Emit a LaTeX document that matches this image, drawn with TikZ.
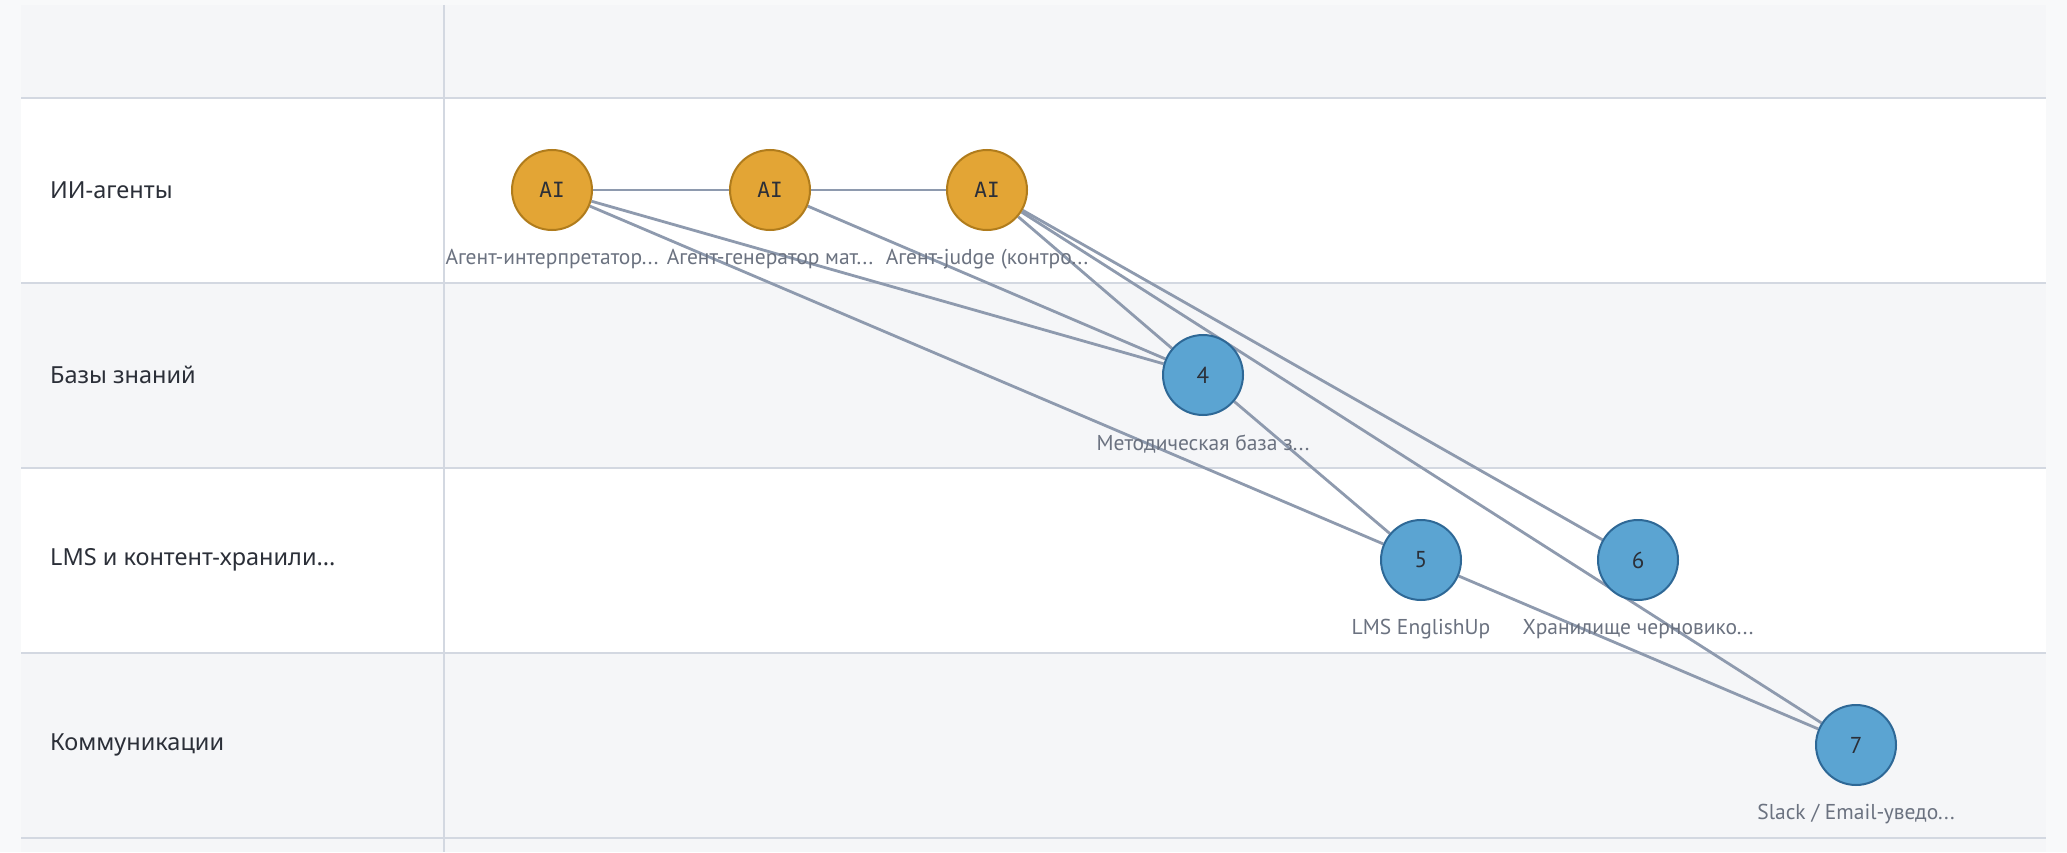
\documentclass[tikz,border=0pt]{standalone}
\usepackage{fontspec}
\setmainfont{Noto Sans}
\newfontfamily\lblfont{PT Sans}
\newfontfamily\aifont{DejaVu Sans Mono}
\usetikzlibrary{positioning,backgrounds}
\pgfdeclarelayer{edgelayer}
\pgfsetlayers{background,edgelayer,main}
\definecolor{pagebg}{HTML}{F8F9FA}
\definecolor{bandgray}{HTML}{F5F6F8}
\definecolor{gridline}{HTML}{D3D8E1}
\definecolor{agentfill}{HTML}{E3A535}
\definecolor{agentedge}{HTML}{B07C1C}
\definecolor{sysfill}{HTML}{5BA4D2}
\definecolor{sysedge}{HTML}{2E6896}
\definecolor{linkgray}{HTML}{8E9AAE}
\definecolor{darktext}{HTML}{2B2F38}
\definecolor{lblgray}{HTML}{6B7280}

\begin{document}
\begin{tikzpicture}[x=1pt, y=-1pt,
    agent/.style={circle, draw=agentedge, fill=agentfill, line width=2pt, minimum size=80pt, inner sep=0pt,
      font=\aifont\fontsize{21}{24}\selectfont, text=darktext,
      label={[nodelbl]below:#1}},
    sysnode/.style={circle, draw=sysedge, fill=sysfill, line width=2pt, minimum size=80pt, inner sep=0pt,
      font=\lblfont\fontsize{23}{24}\selectfont, text=darktext,
      label={[nodelbl]below:#1}},
    nodelbl/.style={font=\lblfont\fontsize{21.5}{24}\selectfont, text=lblgray, label distance=15pt},
    lane/.style={anchor=west, inner sep=0pt, font=\fontsize{23.5}{27}\selectfont, text=darktext},
    grid/.style={draw=gridline, line width=2pt},
    link/.style={draw=linkgray, line width=2.8pt}]

    % table background
    \begin{pgfonlayer}{background}
        \fill[pagebg] (0,0) rectangle (2067,852);
        \foreach \top/\bot/\col in {5/98/bandgray, 98/283/white, 283/468/bandgray,
                                    468/653/white, 653/838/bandgray, 838/852/bandgray}
            \fill[\col] (21,\top) rectangle (2046,\bot);
        \foreach \y in {98,283,468,653,838}
            \draw[grid] (21,\y) -- (2046,\y);
        \draw[grid] (444,5) -- (444,852);
    \end{pgfonlayer}

    % lanes
    \node[lane] (laneai)   at (50,190) {ИИ-агенты};
    \node[lane] (lanekb)   at (50,375) {Базы знаний};
    \node[lane] (lanelms)  at (50,560) {LMS и контент-хранили...};
    \node[lane] (lanecomm) at (50,745) {Коммуникации};

    % agents
    \node[agent={Агент-интерпретатор...}] (interp) at (552,190) {AI};
    \node[agent={Агент-генератор мат...}] (gen)    at (770,190) {AI};
    \node[agent={Агент-judge (контро...}] (judge)  at (987,190) {AI};

    % systems
    \node[sysnode={Методическая база з...}]  (methodbase) at (1203,375) {4};
    \node[sysnode={LMS EnglishUp}]           (lms)        at (1421,560) {5};
    \node[sysnode={Хранилище черновико...}]  (drafts)     at (1638,560) {6};
    \node[sysnode={Slack / Email-уведо...}]  (notify)     at (1856,745) {7};

    % connections
    \begin{pgfonlayer}{edgelayer}
        \draw[link] (interp) -- (gen);
        \draw[link] (gen) -- (judge);
        \draw[link] (interp) -- (methodbase);
        \draw[link] (interp) -- (lms);
        \draw[link] (gen) -- (methodbase);
        \draw[link] (judge) -- (methodbase);
        \draw[link] (judge) -- (drafts);
        \draw[link] (judge) -- (notify);
        \draw[link] (methodbase) -- (lms);
        \draw[link] (lms) -- (notify);
    \end{pgfonlayer}
\end{tikzpicture}
\end{document}
